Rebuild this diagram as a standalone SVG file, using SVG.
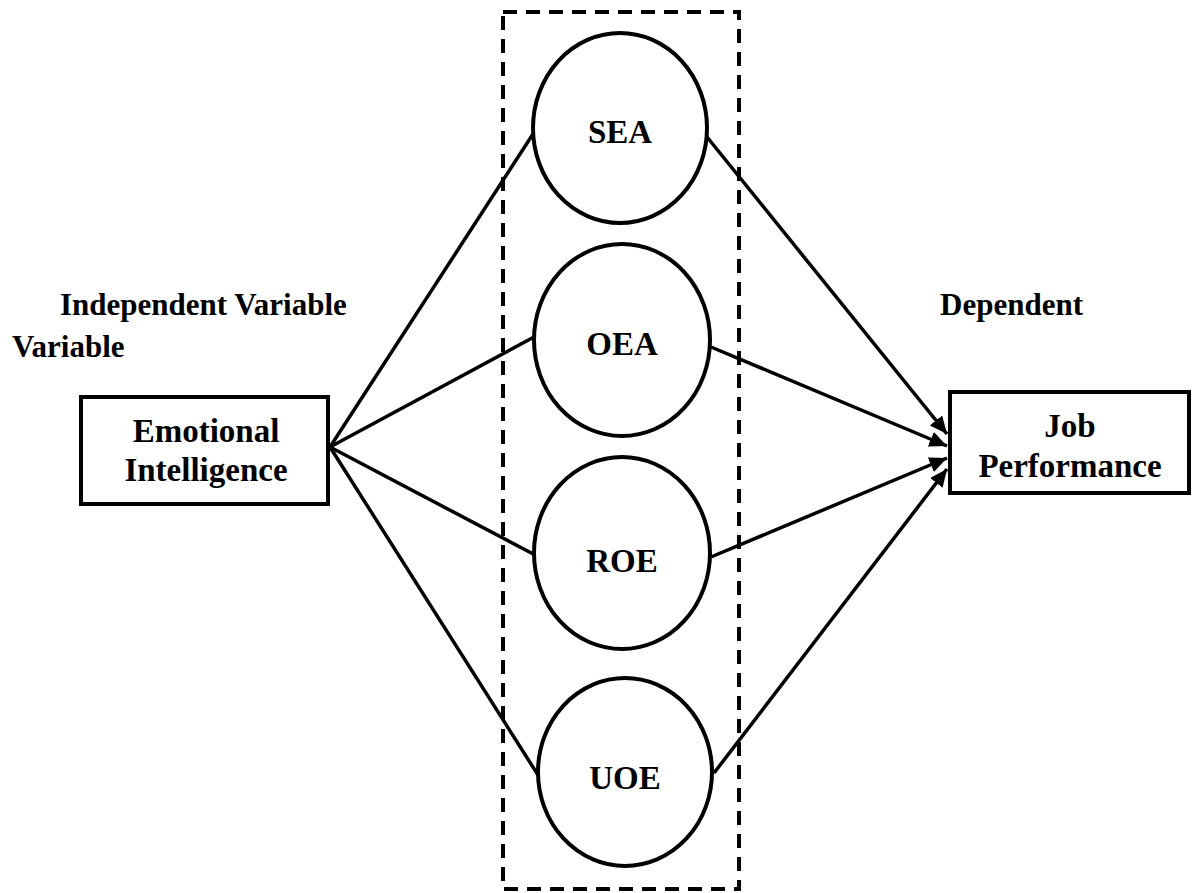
<svg xmlns="http://www.w3.org/2000/svg" width="1192" height="893" viewBox="0 0 1192 893">
<defs>
<style>
text{font-family:"Liberation Serif","Times New Roman",serif;font-weight:bold;fill:#000}
.lbl{font-size:31px}
.box{font-size:33px;text-anchor:middle}
.cl{font-size:33px;text-anchor:middle}
.node{fill:#fff;stroke:#000;stroke-width:4}
.edge{stroke:#000;stroke-width:3.5;fill:none}
</style>
<marker id="arr" viewBox="0 0 10 10" refX="10" refY="5" markerWidth="5" markerHeight="4.5" markerUnits="strokeWidth" orient="auto" preserveAspectRatio="none">
<path d="M0,0 L10,5 L0,10 z" fill="#000"/>
</marker>
</defs>
<rect width="1192" height="893" fill="#fff"/>
<g id="mediators-frame">
<rect x="503" y="12" width="236" height="877" fill="none" stroke="#000" stroke-width="4" stroke-dasharray="14,9"/>
</g>
<g id="connectors">
<line class="edge" x1="330" y1="447" x2="533" y2="134"/>
<line class="edge" x1="330" y1="447" x2="534" y2="337"/>
<line class="edge" x1="330" y1="447" x2="537" y2="556"/>
<line class="edge" x1="330" y1="447" x2="538" y2="775"/>
<line class="edge" x1="707" y1="137" x2="947" y2="434" marker-end="url(#arr)"/>
<line class="edge" x1="711" y1="347" x2="947" y2="446" marker-end="url(#arr)"/>
<line class="edge" x1="711" y1="557" x2="947" y2="458" marker-end="url(#arr)"/>
<line class="edge" x1="714" y1="773" x2="947" y2="469" marker-end="url(#arr)"/>
</g>
<g id="label-independent">
<text class="lbl" x="60" y="315">Independent Variable</text>
<text class="lbl" x="12" y="357">Variable</text>
</g>
<g id="label-dependent">
<text class="lbl" x="940" y="315">Dependent</text>
</g>
<g id="emotional-intelligence">
<rect class="node" x="81" y="397" width="247" height="107" stroke-width="4.5"/>
<text class="box" x="206" y="442">Emotional</text>
<text class="box" x="206" y="481">Intelligence</text>
</g>
<g id="job-performance">
<rect class="node" x="950" y="392" width="239" height="101" stroke-width="4.5"/>
<text class="box" x="1070" y="437">Job</text>
<text class="box" x="1070" y="477">Performance</text>
</g>
<g id="sea">
<ellipse class="node" cx="620" cy="128" rx="87" ry="95"/>
<text class="cl" x="620" y="143">SEA</text>
</g>
<g id="oea">
<ellipse class="node" cx="622" cy="340" rx="88" ry="96"/>
<text class="cl" x="622" y="355">OEA</text>
</g>
<g id="roe">
<ellipse class="node" cx="622" cy="553" rx="88" ry="96"/>
<text class="cl" x="622" y="572">ROE</text>
</g>
<g id="uoe">
<ellipse class="node" cx="625" cy="772" rx="87" ry="94"/>
<text class="cl" x="625" y="789">UOE</text>
</g>
</svg>
